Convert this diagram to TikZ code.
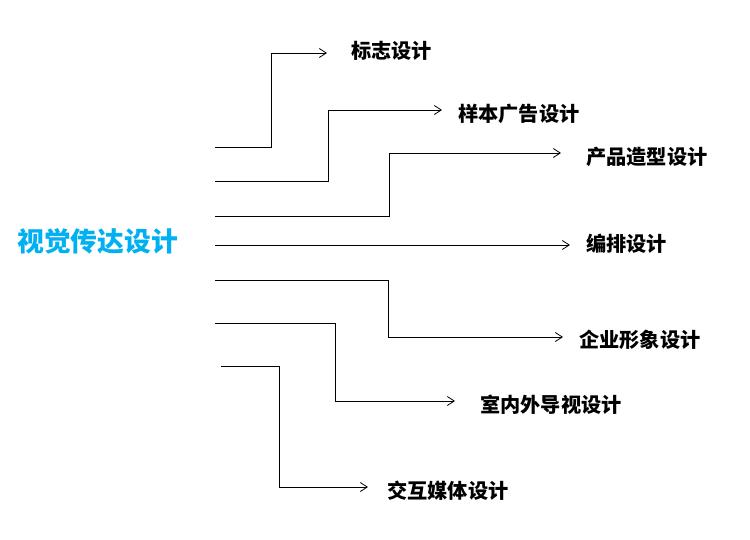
\documentclass[tikz,border=0pt]{standalone}
\usepackage{fontspec}
\newfontfamily\cjk{Noto Sans CJK SC}
\usetikzlibrary{arrows.meta}
\definecolor{titleblue}{RGB}{0,176,240}
\begin{document}
\begin{tikzpicture}[x=1pt,y=-1pt,
  conn/.style={draw=black,line width=0.8pt,-{Straight Barb[length=7pt,width=9pt,line width=0.8pt]}},
  lbl/.style={anchor=west,inner sep=0pt,font=\cjk\bfseries\fontsize{20.2}{22}\selectfont},
  ttl/.style={anchor=west,inner sep=0pt,text=titleblue,font=\cjk\bfseries\fontsize{26.8}{30}\selectfont}]
\useasboundingbox (0,0) rectangle (750,539);
\node[ttl] (t) at (17,241) {视觉传达设计};
% start points
\coordinate (s1) at (215,147);
\coordinate (s2) at (215,181);
\coordinate (s3) at (215,216);
\coordinate (s4) at (215,245);
\coordinate (s5) at (215,280);
\coordinate (s6) at (215,323);
\coordinate (s7) at (221,366);
% knees
\coordinate (k1) at (271,53);
\coordinate (k2) at (328,110);
\coordinate (k3) at (389,153);
\coordinate (k5) at (388,337);
\coordinate (k6) at (335,401);
\coordinate (k7) at (279,487);
% labels
\node[lbl] (l1) at (351,51) {标志设计};
\node[lbl] (l2) at (458,114) {样本广告设计};
\node[lbl] (l3) at (586,157) {产品造型设计};
\node[lbl] (l4) at (586,244) {编排设计};
\node[lbl] (l5) at (579,340) {企业形象设计};
\node[lbl] (l6) at (480,405) {室内外导视设计};
\node[lbl] (l7) at (387,491) {交互媒体设计};
% connectors
\draw[conn,shorten >=24pt] (s1) -| (k1) -- (k1 -| l1.west);
\draw[conn,shorten >=16pt] (s2) -| (k2) -- (k2 -| l2.west);
\draw[conn,shorten >=25pt] (s3) -| (k3) -- (k3 -| l3.west);
\draw[conn,shorten >=16pt] (s4) -- (s4 -| l4.west);
\draw[conn,shorten >=16pt] (s5) -| (k5) -- (k5 -| l5.west);
\draw[conn,shorten >=25pt] (s6) -| (k6) -- (k6 -| l6.west);
\draw[conn,shorten >=19pt] (s7) -| (k7) -- (k7 -| l7.west);
\end{tikzpicture}
\end{document}
